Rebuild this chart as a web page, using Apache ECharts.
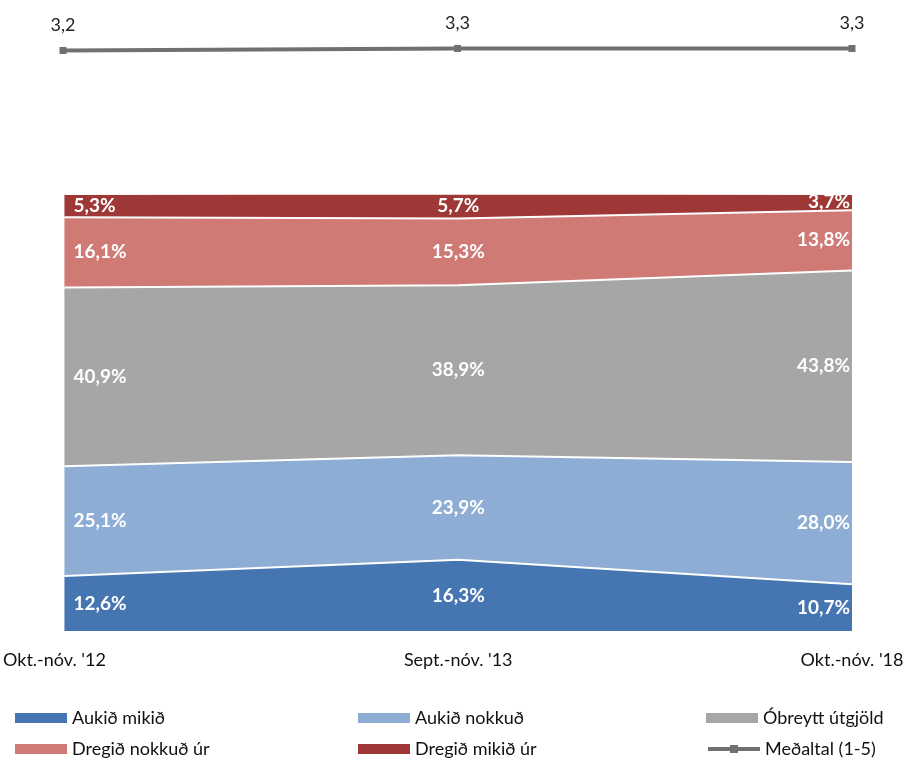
<!DOCTYPE html>
<html>
<head>
<meta charset="utf-8">
<script src="https://cdn.jsdelivr.net/npm/echarts@6/dist/echarts.min.js"></script>
<style>html,body{margin:0;padding:0;background:#fff}#c{width:914px;height:762px}</style>
</head>
<body>
<div id="c"></div>
<script>
const categories = ["Okt.-nóv. '12", "Sept.-nóv. '13", "Okt.-nóv. '18"];
const seriesNames = ["Aukið mikið", "Aukið nokkuð", "Óbreytt útgjöld", "Dregið nokkuð úr", "Dregið mikið úr"];
const aukidMikid = [12.6, 16.3, 10.7];
const aukidNokkud = [25.1, 23.9, 28.0];
const obreytt = [40.9, 38.9, 43.8];
const dregidNokkud = [16.1, 15.3, 13.8];
const dregidMikid = [5.3, 5.7, 3.7];
const medaltal = [3.2, 3.3, 3.3];
const averageName = "Meðaltal (1-5)";
const colors = ["#4676B1", "#8DADD5", "#A6A6A6", "#D07A76", "#9E3836"];

const stackValues = [aukidMikid, aukidNokkud, obreytt, dregidNokkud, dregidMikid];
const FONT = "Lato";
const fmt = v => v.toFixed(1).replace('.', ',');

const series = [];
stackValues.forEach((vals, i) => {
  series.push({
    name: seriesNames[i], type: 'line', stack: 'area', xAxisIndex: 0, yAxisIndex: 0,
    data: vals, symbol: 'none', clip: false,
    lineStyle: { color: '#ffffff', width: 2 },
    areaStyle: { color: colors[i], opacity: 1 },
    itemStyle: { color: colors[i] },
    z: 2 + (stackValues.length - i) * 0.01
  });
});
// invisible stacked bars that carry the centered value labels
stackValues.forEach((vals, i) => {
  series.push({
    name: 'lbl' + i, type: 'bar', stack: 'labels', xAxisIndex: 0, yAxisIndex: 0,
    barWidth: 2, silent: true,
    itemStyle: { color: 'rgba(0,0,0,0)' },
    data: vals.map((v, j) => ({
      value: v,
      label: {
        show: true, position: 'inside',
        align: j === 0 ? 'left' : (j === vals.length - 1 ? 'right' : 'center'),
        offset: j === 0 ? [9, 0] : (j === vals.length - 1 ? [-2, 0] : [0, 0]),
        formatter: fmt(v) + '%',
        color: '#ffffff', fontFamily: FONT, fontWeight: 'bold', fontSize: 19
      }
    })),
    z: 5
  });
});
series.push({
  name: averageName, type: 'line', xAxisIndex: 1, yAxisIndex: 1,
  data: medaltal, symbol: 'rect', symbolSize: 7,
  lineStyle: { color: '#707070', width: 4 },
  itemStyle: { color: '#707070' },
  label: { show: true, position: 'top', distance: 13, formatter: p => fmt(p.value),
    color: '#222', fontFamily: FONT, fontSize: 18 }
});

const legendCommon = {
  itemWidth: 52, itemHeight: 10, padding: 0,
  textStyle: { fontFamily: FONT, fontSize: 18, color: '#111' }
};
const legendPos = [[15, 709], [358, 709], [706, 709], [15, 740], [358, 740], [706, 740]];
const legendItems = [
  { name: seriesNames[0], icon: 'rect' }, { name: seriesNames[1], icon: 'rect' }, { name: seriesNames[2], icon: 'rect' },
  { name: seriesNames[3], icon: 'rect' }, { name: seriesNames[4], icon: 'rect' },
  { name: averageName, lineStyle: { width: 4, color: '#707070' }, itemStyle: { color: '#707070' } }
];
const legends = legendItems.map((it, k) => Object.assign({ left: legendPos[k][0], top: legendPos[k][1], data: [it] }, legendCommon));

const chart = echarts.init(document.getElementById('c'));
chart.setOption({
  animation: false,
  grid: [
    { left: 63, right: 62, top: 194, bottom: 131 },
    { left: 63, right: 62, top: 34.5, height: 40 }
  ],
  xAxis: [
    { type: 'category', gridIndex: 0, data: categories, boundaryGap: false,
      axisLine: { show: false }, axisTick: { show: false },
      axisLabel: { margin: 20, fontFamily: FONT, fontSize: 18, color: '#111',
        formatter: (v, i) => i === 0 ? '{a|' + v + '}' : v,
        rich: { a: { fontFamily: FONT, fontSize: 18, color: '#111', padding: [0, 20, 0, 0] } } } },
    { type: 'category', gridIndex: 1, data: categories, boundaryGap: false, show: false }
  ],
  yAxis: [
    { type: 'value', gridIndex: 0, min: 0, max: 100, show: false },
    { type: 'value', gridIndex: 1, min: 2, max: 4, show: false }
  ],
  legend: legends,
  series: series
});
</script>
</body>
</html>
